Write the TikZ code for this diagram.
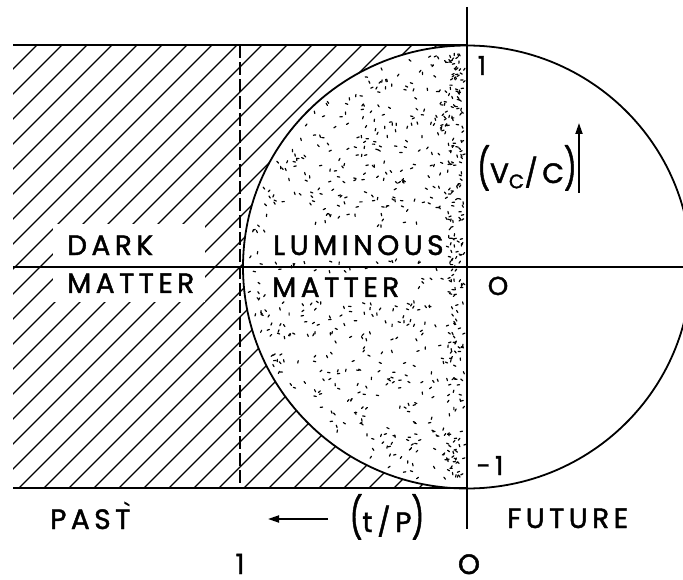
\documentclass[tikz,border=0pt]{standalone}
\usepackage{fontspec}
\setmainfont{Poppins}[FakeBold=1.6, LetterSpace=16]
\newfontfamily\gravefont{Poppins}[FakeBold=1.6]
\usetikzlibrary{arrows.meta}
\begin{document}
\begin{tikzpicture}[x=1pt,y=-1pt,
  lab/.style={font=\fontsize{28}{30}\selectfont, inner sep=0pt, anchor=base west},
  num/.style={font=\fontsize{26}{28}\selectfont, inner sep=0pt, anchor=base},
  axisline/.style={line width=1.6pt},
  hatchline/.style={line width=1.3pt},
  stip/.style={line width=1.2pt, line cap=round},
  arr/.style={line width=1.8pt, -{Triangle[length=11pt,width=7pt]}},
  dashline/.style={line width=1.4pt, dash pattern=on 13pt off 4pt}
]
\useasboundingbox (0,0) rectangle (683,580);
% hatching
\begin{scope}
  \clip (13,45) rectangle (467,488);
  \foreach \k in {1,...,37} {
    \pgfmathsetmacro\c{32+25*\k}
    \draw[hatchline] (\c-488,488) -- (\c-45,45);
  }
\end{scope}
\fill[white] (53,224) rectangle (205,302);
\fill[white] (467,267) ellipse [x radius=224pt, y radius=221.5pt];
% stipple
\pgfmathsetseed{4242}
\foreach \i in {1,...,950} {
  \pgfmathsetmacro\px{242+225*rnd}
  \pgfmathsetmacro\py{45+443*rnd}
  \pgfmathsetmacro\ang{360*rnd}
  \pgfmathtruncatemacro\ok{((((\px-467)/224)^2 + ((\py-267)/221.5)^2) < 0.95) && (\px<463) && !(((\px>266) && (\px<446) && (\py>227) && (\py<261)) || ((\px>266) && (\px<418) && (\py>271) && (\py<302)))}
  \ifnum\ok=1 \draw[stip] (\px,\py) -- ++(\ang:2.4pt); \fi
}
\foreach \i in {1,...,180} {
  \pgfmathsetmacro\px{447+17*rnd}
  \pgfmathsetmacro\py{50+433*rnd}
  \pgfmathsetmacro\ang{360*rnd}
  \draw[stip] (\px,\py) -- ++(\ang:2.4pt);
}
% dashed line
\coordinate (d1) at (240,45);
\coordinate (d2) at (240,488);
\draw[dashline] (d1) -- (d2);
% frame lines
\coordinate (tl) at (13,45);
\coordinate (tr) at (467,45);
\coordinate (bl) at (13,488);
\coordinate (br) at (467,488);
\coordinate (ml) at (13,267);
\coordinate (mr) at (683,267);
\coordinate (vt) at (467,7);
\coordinate (vb) at (467,529);
\draw[axisline] (tl) -- (tr);
\draw[axisline] (bl) -- (br);
\draw[axisline] (ml) -- (mr);
\draw[axisline] (vt) -- (vb);
\begin{scope}
  \clip (0,0) rectangle (683,580);
  \draw[line width=1.8pt] (467,267) ellipse [x radius=224pt, y radius=221.5pt];
\end{scope}
% texts
\node[lab] (dark) at (67,255) {DARK};
\node[lab] (mattl) at (67,293) {MATTER};
\node[lab] (lum) at (273,255) {LUMINOUS};
\node[lab] (mattr) at (272,297) {MATTER};
\node[num] (one) at (482,75) {1};
\node[num] (zero) at (498,295) {O};
\node[num] (mone) at (490,475) {-1};
\node[lab, anchor=base] (vc) at (527,183) {\scalebox{1}[1.45]{(}V\textsubscript{C}/C\scalebox{1}[1.45]{)}};
\node[lab] (past) at (50,529) {PAST};
\node[inner sep=0pt, font=\gravefont\fontsize{22}{22}\selectfont, anchor=base] (grave) at (127,519) {\char"0060};
\node[lab, anchor=base] (tp) at (387,532) {\scalebox{1}[1.45]{(}t\,/\,P\scalebox{1}[1.45]{)}};
\node[lab] (fut) at (507,528) {FUTURE};
\node[num, font=\fontsize{28}{30}\selectfont] (tone) at (240,574) {1};
\node[num, font=\fontsize{28}{30}\selectfont] (tzero) at (469,574) {O};
% arrows
\coordinate (la1) at (328,519);
\coordinate (la2) at (268,519);
\draw[arr] (la1) -- (la2);
\coordinate (ua1) at (579,193);
\coordinate (ua2) at (579,123);
\draw[arr] (ua1) -- (ua2);
\end{tikzpicture}
\end{document}
